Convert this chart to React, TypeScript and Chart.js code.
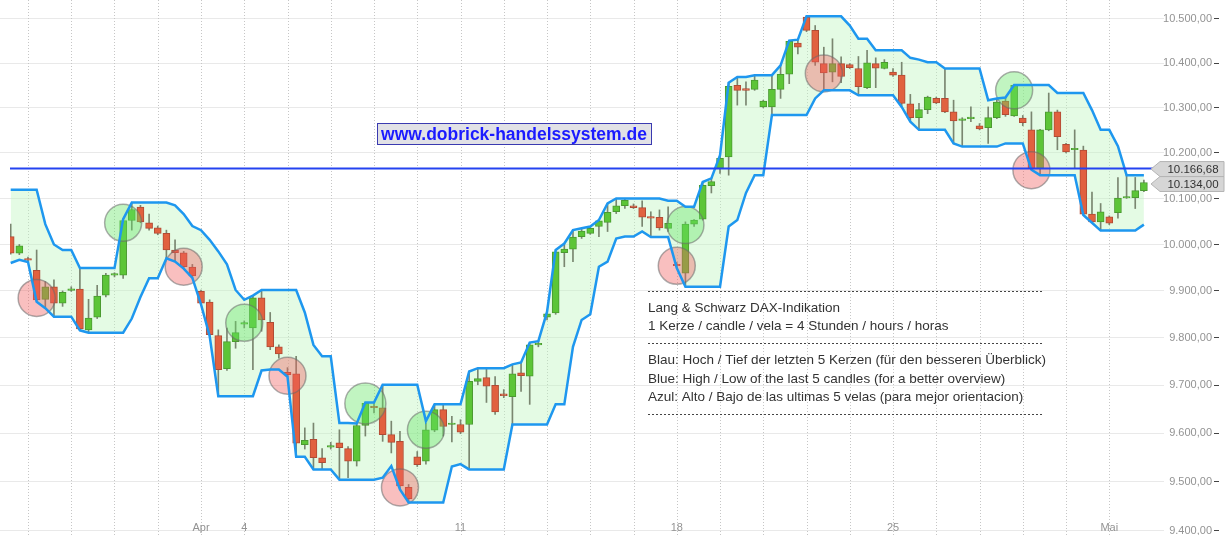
import React, { useEffect, useRef } from "react";
import { Chart, registerables } from "chart.js";

Chart.register(...registerables);

// ---- DATA: Lang & Schwarz DAX, 4-hour candles (5 per trading day) ----
const openPrices = [
  10016, 9980, 9967, 9943, 9881, 9908, 9873, 9900, 9903, 9816,
  9843, 9890, 9933, 9933, 10051, 10080, 10046, 10035, 10023, 9987,
  9981, 9950, 9898, 9875, 9804, 9734, 9791, 9828, 9820, 9884,
  9832, 9780, 9726, 9723, 9575, 9586, 9548, 9570, 9579, 9567,
  9541, 9615, 9653, 9652, 9596, 9582, 9487, 9550, 9541, 9605,
  9648, 9617, 9617, 9617, 9707, 9715, 9699, 9681, 9675, 9725,
  9718, 9784, 9843, 9852, 9981, 9989, 10016, 10023, 10038, 10047,
  10070, 10083, 10083, 10079, 10059, 10058, 10034, 9956, 9937, 10043,
  10054, 10127, 10165, 10190, 10349, 10342, 10340, 10301, 10301, 10340,
  10374, 10444, 10503, 10473, 10398, 10379, 10398, 10396, 10387, 10344,
  10398, 10387, 10379, 10372, 10308, 10277, 10295, 10320, 10320, 10290,
  10271, 10275, 10259, 10255, 10277, 10314, 10281, 10276, 10250, 10165,
  10250, 10290, 10218, 10206, 10205, 10065, 10048, 10059, 10068, 10100,
  10101, 10116,
];
const highPrices = [
  10043, 9999, 9972, 9987, 9919, 9923, 9899, 9908, 9948, 9881,
  9911, 9937, 9938, 10054, 10090, 10084, 10065, 10039, 10030, 10009,
  9984, 9956, 9901, 9880, 9816, 9820, 9834, 9835, 9889, 9901,
  9853, 9784, 9736, 9760, 9610, 9620, 9567, 9580, 9606, 9571,
  9619, 9663, 9663, 9700, 9624, 9603, 9493, 9561, 9620, 9659,
  9659, 9634, 9627, 9728, 9735, 9733, 9717, 9690, 9743, 9747,
  9789, 9792, 9854, 9987, 10001, 10030, 10034, 10038, 10052, 10088,
  10099, 10099, 10087, 10094, 10070, 10074, 10081, 9960, 10048, 10053,
  10135, 10143, 10194, 10355, 10368, 10357, 10372, 10316, 10372, 10394,
  10450, 10452, 10505, 10484, 10435, 10454, 10413, 10398, 10414, 10428,
  10411, 10407, 10387, 10401, 10329, 10309, 10325, 10323, 10387, 10316,
  10277, 10301, 10264, 10301, 10320, 10322, 10350, 10282, 10290, 10251,
  10332, 10294, 10220, 10250, 10214, 10113, 10088, 10061, 10145, 10150,
  10145, 10139,
];
const lowPrices = [
  9978, 9977, 9961, 9876, 9862, 9844, 9866, 9898, 9815, 9810,
  9840, 9886, 9929, 9926, 10030, 10046, 10030, 10020, 9969, 9962,
  9947, 9927, 9870, 9803, 9676, 9730, 9777, 9820, 9732, 9813,
  9774, 9756, 9717, 9550, 9566, 9524, 9524, 9566, 9503, 9507,
  9531, 9593, 9641, 9582, 9558, 9483, 9456, 9530, 9535, 9602,
  9593, 9581, 9598, 9524, 9700, 9663, 9638, 9673, 9617, 9686,
  9659, 9780, 9837, 9849, 9951, 9962, 10012, 10021, 10016, 10027,
  10066, 10077, 10077, 10038, 10015, 10030, 10027, 9948, 9908, 10038,
  10052, 10111, 10154, 10150, 10305, 10305, 10338, 10299, 10283, 10320,
  10353, 10420, 10470, 10394, 10338, 10357, 10355, 10387, 10327, 10342,
  10344, 10386, 10369, 10301, 10268, 10250, 10286, 10308, 10288, 10220,
  10213, 10268, 10250, 10220, 10275, 10280, 10280, 10259, 10162, 10150,
  10248, 10206, 10199, 10165, 10063, 10046, 10029, 10042, 10056, 10099,
  10077, 10114,
];
const closePrices = [
  9980, 9996, 9965, 9880, 9908, 9873, 9896, 9902, 9818, 9841,
  9888, 9933, 9934, 10051, 10075, 10048, 10034, 10023, 9987, 9981,
  9951, 9931, 9873, 9806, 9732, 9791, 9810, 9830, 9884, 9837,
  9780, 9765, 9721, 9578, 9584, 9548, 9538, 9572, 9569, 9541,
  9615, 9661, 9652, 9596, 9580, 9490, 9464, 9534, 9606, 9648,
  9613, 9618, 9601, 9707, 9713, 9697, 9643, 9677, 9723, 9719,
  9784, 9785, 9850, 9983, 9989, 10015, 10028, 10034, 10050, 10069,
  10083, 10095, 10079, 10058, 10056, 10035, 10045, 9953, 10043, 10052,
  10128, 10136, 10187, 10347, 10338, 10338, 10361, 10314, 10340, 10374,
  10448, 10435, 10473, 10401, 10377, 10398, 10369, 10389, 10346, 10400,
  10388, 10401, 10372, 10309, 10277, 10295, 10323, 10310, 10290, 10270,
  10272, 10276, 10252, 10277, 10312, 10284, 10349, 10266, 10165, 10250,
  10290, 10235, 10201, 10207, 10065, 10048, 10070, 10045, 10100, 10101,
  10116, 10134,
];
// Blue channel: high / low of the last 5 candles
const bandHigh = [
  10118, 10118, 10118, 10118, 10043, 9999, 9987, 9987, 9948, 9948,
  9948, 9948, 9948, 10054, 10090, 10090, 10090, 10090, 10090, 10084,
  10065, 10039, 10030, 10009, 9984, 9956, 9901, 9880, 9889, 9901,
  9901, 9901, 9901, 9901, 9853, 9784, 9760, 9760, 9620, 9620,
  9619, 9663, 9663, 9700, 9700, 9700, 9700, 9700, 9624, 9659,
  9659, 9659, 9659, 9728, 9735, 9735, 9735, 9735, 9743, 9747,
  9789, 9792, 9854, 9987, 10001, 10030, 10034, 10038, 10052, 10088,
  10099, 10099, 10099, 10099, 10099, 10099, 10094, 10094, 10081, 10081,
  10135, 10143, 10194, 10355, 10368, 10368, 10372, 10372, 10372, 10394,
  10450, 10452, 10505, 10505, 10505, 10505, 10505, 10484, 10454, 10454,
  10428, 10428, 10428, 10428, 10411, 10407, 10401, 10401, 10387, 10387,
  10387, 10387, 10387, 10316, 10320, 10322, 10350, 10350, 10350, 10350,
  10350, 10332, 10332, 10332, 10332, 10294, 10250, 10250, 10214, 10150,
  10150, 10150,
];
const bandLow = [
  9959, 9966, 9961, 9876, 9862, 9844, 9844, 9844, 9815, 9810,
  9810, 9810, 9810, 9810, 9840, 9886, 9926, 9926, 9969, 9962,
  9947, 9927, 9870, 9803, 9676, 9676, 9676, 9676, 9676, 9730,
  9732, 9732, 9717, 9550, 9550, 9524, 9524, 9524, 9503, 9503,
  9503, 9503, 9503, 9507, 9531, 9483, 9456, 9456, 9456, 9456,
  9456, 9530, 9535, 9524, 9524, 9524, 9524, 9524, 9617, 9617,
  9617, 9617, 9617, 9659, 9659, 9780, 9837, 9849, 9951, 9962,
  10012, 10016, 10016, 10027, 10015, 10015, 10015, 9948, 9908, 9908,
  9908, 9908, 9908, 10038, 10052, 10111, 10150, 10150, 10283, 10283,
  10283, 10283, 10283, 10320, 10338, 10338, 10338, 10338, 10327, 10327,
  10327, 10327, 10327, 10301, 10268, 10250, 10250, 10250, 10250, 10220,
  10213, 10213, 10213, 10213, 10213, 10220, 10220, 10220, 10162, 10150,
  10150, 10150, 10150, 10150, 10063, 10046, 10029, 10029, 10029, 10029,
  10029, 10042,
];
// Signal circles (candle index, price)
const redSignalIdx = [3, 20, 32, 45, 77, 94, 118];
const redSignalPrice = [9884, 9951, 9719, 9487, 9953, 10376, 10161];
const greenSignalIdx = [13, 27, 41, 48, 78, 116];
const greenSignalPrice = [10046, 9831, 9661, 9606, 10041, 10338];

// Trading days: index of the first candle of each day, and the axis labels
const dayFirstCandle = [
  2, 7, 12, 17, 22, 27, 32, 37, 42, 47, 52, 57, 62, 67, 72, 77, 82, 87, 92, 97,
  102, 107, 112, 117, 122, 127,
];
const dayLabels = [
  "", "", "", "", "Apr", "4", "", "", "", "", "11", "", "", "", "", "18", "", "",
  "", "", "25", "", "", "", "", "Mai",
];
const priceTicks = [9400, 9500, 9600, 9700, 9800, 9900, 10000, 10100, 10200, 10300, 10400, 10500];
const refLevel = 10166.68;
const lastPrice = 10134.0;

const watermark = "www.dobrick-handelssystem.de";
const infoHead = ["Lang & Schwarz DAX-Indikation", "1 Kerze / candle / vela = 4 Stunden / hours / horas"];
const infoBody = [
  "Blau: Hoch / Tief der letzten 5 Kerzen (für den besseren Überblick)",
  "Blue: High / Low of the last 5 candles (for a better overview)",
  "Azul: Alto / Bajo de las ultimas 5 velas (para mejor orientacion)",
];

const FONT = '"Liberation Sans", Arial, sans-serif';

function fmtDE(v: number): string {
  const [i, d] = v.toFixed(2).split(".");
  return i.replace(/\B(?=(\d{3})+(?!\d))/g, ".") + "," + d;
}

export default function App() {
  const ref = useRef<HTMLCanvasElement>(null);

  useEffect(() => {
    document.body.style.margin = "0";
    const canvas = ref.current!;
    const n = openPrices.length;
    const idx = Array.from({ length: n }, (_, i) => i);
    const isUp = idx.map((i) => closePrices[i] >= openPrices[i]);

    const overlay = {
      id: "overlay",
      beforeDraw(chart: any) {
        const { ctx, scales } = chart;
        const x = scales.x, y = scales.y;
        ctx.save();
        ctx.lineWidth = 1;
        ctx.strokeStyle = "#e9e9e9";
        for (const t of priceTicks) {
          const py = Math.round(y.getPixelForValue(t)) + 0.5;
          ctx.beginPath();
          ctx.moveTo(0, py);
          ctx.lineTo(1164, py);
          ctx.stroke();
        }
        ctx.strokeStyle = "#c6c6c6";
        ctx.setLineDash([1, 2]);
        for (const d of dayFirstCandle) {
          const px = Math.round(x.getPixelForValue(d)) + 0.5;
          ctx.beginPath();
          ctx.moveTo(px, 0);
          ctx.lineTo(px, 535);
          ctx.stroke();
        }
        ctx.restore();
      },
      afterDatasetsDraw(chart: any) {
        const { ctx, scales, chartArea } = chart;
        const x = scales.x, y = scales.y;
        ctx.save();
        // reference line
        const ry = y.getPixelForValue(refLevel) + 1;
        ctx.strokeStyle = "#2443f0";
        ctx.lineWidth = 2;
        ctx.beginPath();
        ctx.moveTo(chartArea.left, ry);
        ctx.lineTo(chartArea.right + 2, ry);
        ctx.stroke();

        // y labels
        ctx.font = `11px ${FONT}`;
        ctx.textBaseline = "middle";
        ctx.textAlign = "right";
        for (const t of priceTicks) {
          const py = y.getPixelForValue(t);
          ctx.fillStyle = "#939393";
          ctx.fillText(fmtDE(t), 1212, py + 0.5);
          ctx.strokeStyle = "#444";
          ctx.lineWidth = 1;
          ctx.beginPath();
          ctx.moveTo(1214, Math.round(py) + 0.5);
          ctx.lineTo(1219, Math.round(py) + 0.5);
          ctx.stroke();
        }

        // price tags
        const tag = (val: number) => {
          const py = y.getPixelForValue(val) + 1.5;
          const left = 1160, right = 1224, h = 15, tip = 1151;
          ctx.beginPath();
          ctx.moveTo(tip, py);
          ctx.lineTo(left, py - h / 2);
          ctx.lineTo(right, py - h / 2);
          ctx.lineTo(right, py + h / 2);
          ctx.lineTo(left, py + h / 2);
          ctx.closePath();
          ctx.fillStyle = "#d6d6d6";
          ctx.fill();
          ctx.strokeStyle = "#b4b4b4";
          ctx.lineWidth = 1;
          ctx.stroke();
          ctx.fillStyle = "#333";
          ctx.textAlign = "center";
          ctx.font = `11.5px ${FONT}`;
          ctx.fillText(fmtDE(val), (left + right) / 2 + 1, py + 0.5);
        };
        tag(lastPrice);
        tag(refLevel);

        // x labels
        ctx.fillStyle = "#939393";
        ctx.textAlign = "center";
        ctx.font = `11px ${FONT}`;
        dayFirstCandle.forEach((d, k) => {
          if (dayLabels[k]) ctx.fillText(dayLabels[k], x.getPixelForValue(d), 528);
        });

        // watermark
        ctx.font = `bold 17.5px ${FONT}`;
        const ww = ctx.measureText(watermark).width;
        const cx = 514, cy = 134;
        ctx.fillStyle = "#e1e1e6";
        ctx.fillRect(cx - ww / 2 - 4, cy - 11, ww + 8, 22);
        ctx.strokeStyle = "#3a3ab0";
        ctx.lineWidth = 1;
        ctx.strokeRect(Math.round(cx - ww / 2 - 4) + 0.5, cy - 10.5, Math.round(ww + 8), 21);
        ctx.fillStyle = "#1a1aff";
        ctx.textAlign = "center";
        ctx.fillText(watermark, cx, cy + 1);

        // info block
        const dash = (yy: number) => {
          ctx.strokeStyle = "#444";
          ctx.lineWidth = 1;
          ctx.setLineDash([2, 2]);
          ctx.beginPath();
          ctx.moveTo(648, yy + 0.5);
          ctx.lineTo(1042, yy + 0.5);
          ctx.stroke();
          ctx.setLineDash([]);
        };
        ctx.font = `13.5px ${FONT}`;
        ctx.textAlign = "left";
        ctx.fillStyle = "#333";
        dash(291);
        ctx.fillText(infoHead[0], 648, 308);
        ctx.fillText(infoHead[1], 648, 326);
        dash(343);
        ctx.fillText(infoBody[0], 648, 360);
        ctx.fillText(infoBody[1], 648, 379);
        ctx.fillText(infoBody[2], 648, 397);
        dash(414);
        ctx.restore();
      },
    };

    const chart = new Chart(canvas, {
      type: "bar",
      data: {
        datasets: [
          {
            type: "line",
            label: "Hoch (5)",
            data: idx.map((i) => ({ x: i, y: bandHigh[i] })),
            borderColor: "#1e97ef",
            borderWidth: 2.5,
            pointRadius: 0,
            tension: 0,
            fill: "+1",
            backgroundColor: "rgba(190,246,190,0.42)",
            order: 0,
          },
          {
            type: "line",
            label: "Tief (5)",
            data: idx.map((i) => ({ x: i, y: bandLow[i] })),
            borderColor: "#1e97ef",
            borderWidth: 2.5,
            pointRadius: 0,
            tension: 0,
            fill: false,
            order: 0,
          },
          {
            type: "bar",
            label: "Docht",
            data: idx.map((i) => ({ x: i, y: [lowPrices[i], highPrices[i]] })),
            backgroundColor: "#7a8670",
            barThickness: 1,
            grouped: false,
            order: 3,
          },
          {
            type: "bar",
            label: "Kerze",
            data: idx.map((i) => ({ x: i, y: [openPrices[i], closePrices[i]] })),
            backgroundColor: idx.map((i) => (isUp[i] ? "#5cc537" : "#e1613f")),
            borderColor: idx.map((i) => (isUp[i] ? "#4a9a30" : "#b04b35")),
            borderWidth: 1,
            borderSkipped: false,
            barThickness: 7,
            minBarLength: 1.5,
            grouped: false,
            order: 2,
          },
          {
            type: "scatter",
            label: "Signal rot",
            data: redSignalIdx.map((v, k) => ({ x: v, y: redSignalPrice[k] })),
            pointRadius: 18.5,
            backgroundColor: "rgba(240,95,95,0.40)",
            borderColor: "rgba(105,105,105,0.55)",
            borderWidth: 1.5,
            order: 1,
          },
          {
            type: "scatter",
            label: "Signal grün",
            data: greenSignalIdx.map((v, k) => ({ x: v, y: greenSignalPrice[k] })),
            pointRadius: (c: any) => (c.dataIndex === 2 ? 20.5 : 18.5),
            backgroundColor: "rgba(100,230,100,0.40)",
            borderColor: "rgba(105,105,105,0.55)",
            borderWidth: 1.5,
            order: 1,
          },
        ],
      } as any,
      options: {
        responsive: false,
        animation: false,
        devicePixelRatio: 1,
        layout: { autoPadding: false, padding: { left: 10, right: 72, top: 2, bottom: 5 } },
        scales: {
          x: { type: "linear", min: -0.08, max: 132.4, display: false, offset: false },
          y: { type: "logarithmic", min: 9400, max: 10537.5, display: false },
        },
        plugins: {
          legend: { display: false },
          tooltip: { enabled: false },
          filler: { drawTime: "beforeDatasetsDraw" },
        },
      } as any,
      plugins: [overlay],
    });
    return () => chart.destroy();
  }, []);

  return (
    <div style={{ width: 1228, height: 535 }}>
      <canvas ref={ref} width={1228} height={535} style={{ display: "block" }} />
    </div>
  );
}
